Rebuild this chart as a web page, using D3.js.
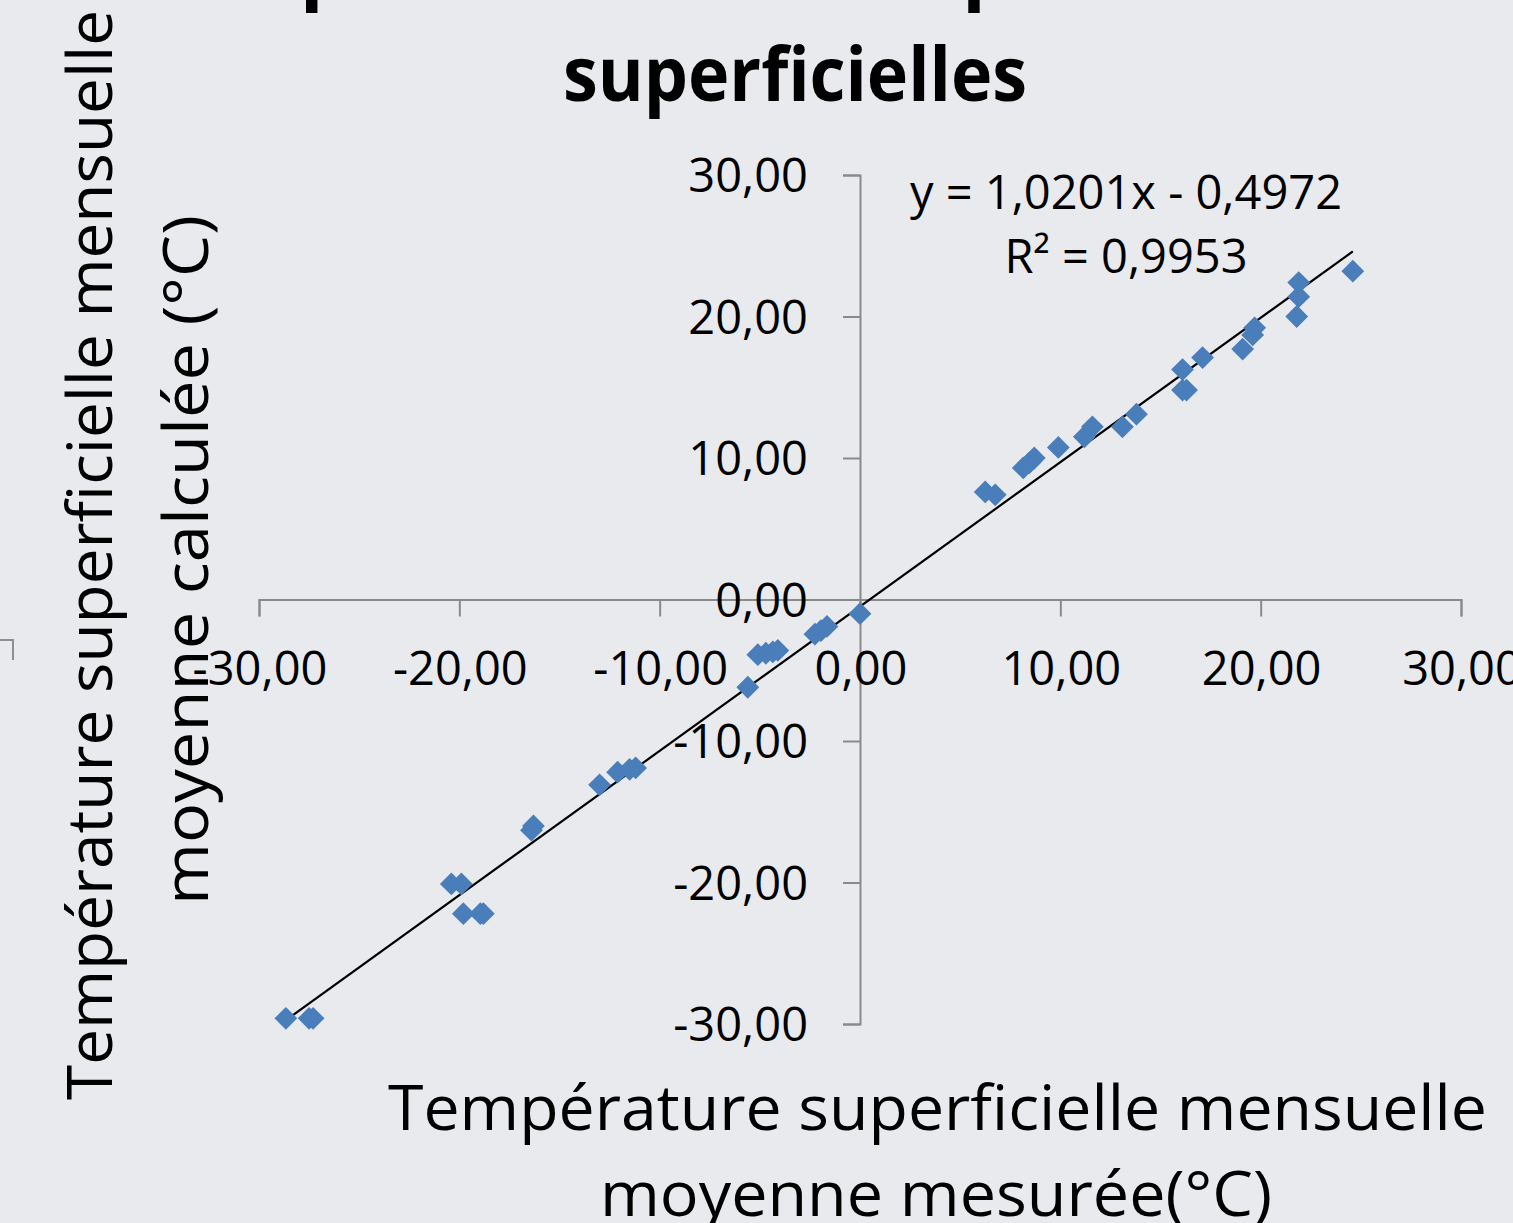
<!DOCTYPE html>
<html>
<head>
<meta charset="utf-8">
<script src="https://cdn.jsdelivr.net/npm/d3@7"></script>
<style>
  html, body { margin: 0; padding: 0; background: #e9eaee; overflow: hidden; }
  svg { display: block; }
</style>
</head>
<body>
<svg id="chart" width="1513" height="1223"></svg>
<script>
// ---- Data ----
const measured = [
  -28.66, -27.5, -27.3,
  -20.4, -19.9, -19.8, -18.95, -18.8,
  -16.4, -16.3,
  -13.0, -12.1, -11.5, -11.2,
  -5.6, -5.1, -4.7, -4.35, -4.1,
  -2.25, -1.95, -1.65,
  0.0,
  6.25, 6.75,
  8.15, 8.45, 8.7,
  9.9,
  11.2, 11.6,
  13.1, 13.8,
  16.1, 16.1, 16.3,
  17.1,
  19.1, 19.6, 19.7,
  21.8, 21.9, 21.9,
  24.6
];
const calculated = [
  -29.6, -29.6, -29.6,
  -20.1, -20.1, -22.2, -22.2, -22.2,
  -16.3, -16.0,
  -13.1, -12.2, -12.0, -11.9,
  -6.2, -3.9, -3.8, -3.7, -3.6,
  -2.45, -2.2, -1.9,
  -1.0,
  7.6, 7.4,
  9.3, 9.65, 10.0,
  10.75,
  11.5, 12.2,
  12.2, 13.1,
  16.25, 14.8, 14.8,
  17.1,
  17.7, 18.7, 19.2,
  20.0, 21.4, 22.4,
  23.2
];
const xTicks = [-30, -20, -10, 0, 10, 20, 30];
const yTicks = [-30, -20, -10, 0, 10, 20, 30];
const slope = 1.0201, intercept = -0.4972;
const titleLines = ["Comparaison des températures", "superficielles"];
const xLabelLines = ["Température superficielle mensuelle", "moyenne mesurée(°C)"];
const yLabelLines = ["Température superficielle mensuelle", "moyenne calculée  (°C)"];
const equationText = "y = 1,0201x - 0,4972";
const r2Text = "R² = 0,9953";

// ---- Drawing ----
const svg = d3.select("#chart");
const W = 1513, H = 1223;
svg.append("rect").attr("width", W).attr("height", H).attr("fill", "#e9eaee");

const x = d3.scaleLinear().domain([-30, 30]).range([259, 1461]);
const y = d3.scaleLinear().domain([-30, 30]).range([1024, 175]);
const fmt = v => d3.format(".2f")(Math.abs(v)).replace(".", ",");
const lab = v => (v < 0 ? "-" : "") + fmt(v);

const font = "'Open Sans', 'DejaVu Sans', sans-serif";
const axisColor = "#8a8a8a";

// small decoration at left
svg.append("path").attr("d", "M0,640 H13 V660").attr("fill", "none")
  .attr("stroke", "#8f8f8f").attr("stroke-width", 2);

// Title
svg.append("text").text(titleLines[0])
  .attr("x", 128).attr("y", -5).attr("font-family", font).attr("font-weight", 700)
  .attr("font-size", 76).attr("textLength", 1212).attr("lengthAdjust", "spacingAndGlyphs")
  .attr("fill", "#000");
svg.append("text").text(titleLines[1])
  .attr("x", 563).attr("y", 101).attr("font-family", font).attr("font-weight", 700)
  .attr("font-size", 76).attr("textLength", 464).attr("lengthAdjust", "spacingAndGlyphs")
  .attr("fill", "#000");

// X axis
const xAxis = d3.axisBottom(x).tickValues(xTicks).tickSize(17).tickFormat("");
const gx = svg.append("g").attr("transform", `translate(0,${y(0)})`).call(xAxis);
gx.select(".domain").attr("stroke", axisColor).attr("stroke-width", 2);
gx.selectAll(".tick line").attr("stroke", axisColor).attr("stroke-width", 2);

// Y axis
const yAxis = d3.axisLeft(y).tickValues(yTicks).tickSize(17).tickFormat("");
const gy = svg.append("g").attr("transform", `translate(${x(0)},0)`).call(yAxis);
gy.select(".domain").attr("stroke", axisColor).attr("stroke-width", 2);
gy.selectAll(".tick line").attr("stroke", axisColor).attr("stroke-width", 2);

// X tick labels
svg.append("g").selectAll("text").data(xTicks).join("text")
  .attr("x", d => x(d) + 1).attr("y", 685)
  .attr("text-anchor", "middle").attr("font-family", font).attr("font-size", 47)
  .attr("fill", "#000").text(d => lab(d));

// Y tick labels
svg.append("g").selectAll("text").data(yTicks).join("text")
  .attr("x", 808).attr("y", d => y(d) + 17)
  .attr("text-anchor", "end").attr("font-family", font).attr("font-size", 47)
  .attr("fill", "#000").text(d => lab(d));

// Trend line
const xMin = d3.min(measured), xMax = d3.max(measured);
svg.append("line")
  .attr("x1", x(xMin)).attr("y1", y(slope * xMin + intercept))
  .attr("x2", x(xMax)).attr("y2", y(slope * xMax + intercept))
  .attr("stroke", "#000").attr("stroke-width", 2.2);

// Points (diamonds)
const pts = measured.map((m, i) => [m, calculated[i]]);
const sym = d3.symbol().type(d3.symbolSquare).size(260);
svg.append("g").selectAll("path").data(pts).join("path")
  .attr("d", sym)
  .attr("transform", d => `translate(${x(d[0])},${y(d[1])}) rotate(45)`)
  .attr("fill", "#4a7ebb");

// Equation
svg.append("text").text(equationText)
  .attr("x", 1126).attr("y", 209).attr("text-anchor", "middle")
  .attr("font-family", font).attr("font-size", 47).attr("fill", "#000");
svg.append("text").text(r2Text)
  .attr("x", 1126).attr("y", 273).attr("text-anchor", "middle")
  .attr("font-family", font).attr("font-size", 47).attr("fill", "#000");

// X label
svg.append("text").text(xLabelLines[0])
  .attr("x", 388).attr("y", 1130).attr("font-family", font).attr("font-size", 62)
  .attr("textLength", 1099).attr("lengthAdjust", "spacingAndGlyphs").attr("fill", "#000");
svg.append("text").text(xLabelLines[1])
  .attr("x", 600).attr("y", 1216)
  .attr("font-family", font).attr("font-size", 62)
  .attr("textLength", 672).attr("lengthAdjust", "spacingAndGlyphs").attr("fill", "#000");

// Y label
svg.append("text").text(yLabelLines[0])
  .attr("transform", "translate(112,1100) rotate(-90)")
  .attr("font-family", font).attr("font-size", 62)
  .attr("textLength", 1090).attr("lengthAdjust", "spacingAndGlyphs").attr("fill", "#000");
svg.append("text").text(yLabelLines[1])
  .attr("transform", "translate(208,905) rotate(-90)")
  .attr("font-family", font).attr("font-size", 62)
  .attr("textLength", 690).attr("lengthAdjust", "spacingAndGlyphs").attr("fill", "#000");
</script>
</body>
</html>
